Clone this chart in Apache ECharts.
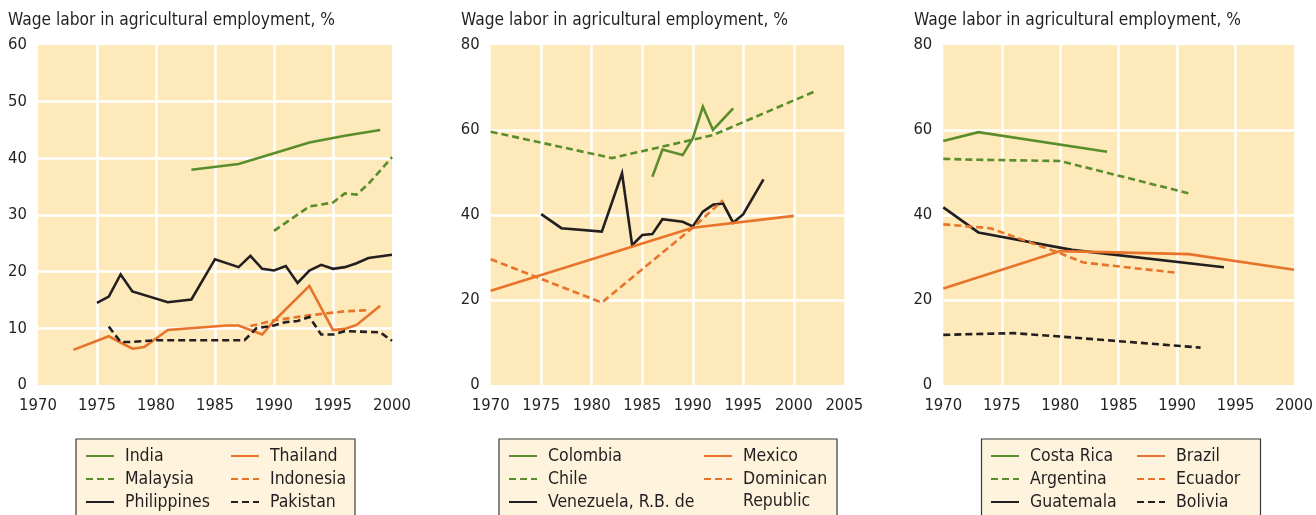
<!DOCTYPE html>
<html>
<head>
<meta charset="utf-8">
<script src="https://cdn.jsdelivr.net/npm/echarts@6/dist/echarts.min.js"></script>
<style>
  html, body { margin: 0; padding: 0; background: #ffffff; }
  #chart { width: 1316px; height: 515px; }
</style>
</head>
<body>
<div id="chart"></div>
<script>
// Wage labor as a share of agricultural employment, %, by country and year
const titleText = 'Wage labor in agricultural employment, %';

// Asia
const india       = [[1983, 38.0], [1987, 39.0], [1990, 40.9], [1993, 42.8], [1996, 44.0], [1999, 45.0]];
const malaysia    = [[1990, 27.2], [1993, 31.5], [1995, 32.2], [1996, 33.8], [1997, 33.6], [1998, 35.5], [2000, 40.2]];
const philippines = [[1975, 14.5], [1976, 15.6], [1977, 19.5], [1978, 16.5], [1981, 14.6], [1983, 15.1], [1985, 22.2],
                     [1987, 20.8], [1988, 22.8], [1989, 20.5], [1990, 20.2], [1991, 21.0], [1992, 18.0], [1993, 20.2],
                     [1994, 21.2], [1995, 20.5], [1996, 20.8], [1997, 21.5], [1998, 22.4], [2000, 23.0]];
const thailand    = [[1973, 6.2], [1976, 8.6], [1977, 7.5], [1978, 6.4], [1979, 6.7], [1981, 9.7], [1986, 10.5],
                     [1987, 10.5], [1989, 8.9], [1990, 11.3], [1993, 17.5], [1995, 9.7], [1996, 9.9], [1997, 10.6], [1999, 14.0]];
const indonesia   = [[1988, 10.4], [1990, 11.4], [1993, 12.3], [1996, 13.0], [1998, 13.2]];
const pakistan    = [[1976, 10.3], [1977, 7.6], [1978, 7.6], [1980, 7.9], [1987.5, 7.9], [1988.5, 10.0], [1990, 10.5],
                     [1991, 11.1], [1992, 11.3], [1993, 12.0], [1994, 8.9], [1995, 8.9], [1996, 9.5], [1999, 9.3], [2000, 7.8]];

// Latin America (first group)
const colombia  = [[1986, 49.0], [1987, 55.4], [1989, 54.1], [1990, 58.0], [1991, 65.5], [1992, 60.0], [1994, 65.1]];
const chile     = [[1970, 59.6], [1982, 53.4], [1992, 58.8], [2002, 69.0]];
const venezuela = [[1975, 40.2], [1977, 36.9], [1981, 36.1], [1983, 49.8], [1984, 32.9], [1985, 35.3], [1986, 35.5],
                   [1987, 39.0], [1989, 38.4], [1990, 37.3], [1991, 40.8], [1992, 42.4], [1993, 42.7], [1994, 38.2],
                   [1995, 40.2], [1997, 48.4]];
const mexico    = [[1970, 22.2], [1990, 37.0], [2000, 39.8]];
const dominican = [[1970, 29.6], [1981, 19.4], [1990, 37.0], [1993, 43.5]];

// Latin America (second group)
const costaRica = [[1970, 57.4], [1973, 59.5], [1984, 54.9]];
const argentina = [[1970, 53.2], [1973, 53.0], [1980, 52.7], [1991, 45.1]];
const guatemala = [[1970, 41.8], [1973, 35.9], [1981, 31.8], [1994, 27.7]];
const brazil    = [[1970, 22.7], [1980, 31.5], [1991, 30.8], [2000, 27.1]];
const ecuador   = [[1970, 37.8], [1974, 36.9], [1980, 31.0], [1982, 28.8], [1990, 26.4]];
const bolivia   = [[1970, 11.8], [1976, 12.2], [1980, 11.4], [1992, 8.8]];

// Axis ranges
const xRanges = [[1970, 2000], [1970, 2005], [1970, 2000]];
const yRanges = [[0, 60, 10], [0, 80, 20], [0, 80, 20]];

const FONT = "'DejaVu Sans Condensed', 'Liberation Sans Narrow', Roboto, sans-serif";
const FS_TITLE = 17.2;
const FS_TICK = 16.5;
const FS_LEGEND = 17.5;
const INK = '#231f20';
const GREEN = '#5a8d2b';
const ORANGE = '#e8732a';
const BLACK = '#231f20';
const PLOT_BG = '#fde9b9';
const BOX_BG = '#fef3dc';
const DASH = [7, 4];

const grids = [
  { left: 38, top: 45, width: 354, height: 340 },
  { left: 490.7, top: 45, width: 353.6, height: 340 },
  { left: 943.3, top: 45, width: 354, height: 340 }
];

function seriesDef(name, data, color, dashed, idx) {
  return {
    name: name,
    type: 'line',
    xAxisIndex: idx,
    yAxisIndex: idx,
    data: data,
    symbol: 'none',
    silent: true,
    color: color,
    lineStyle: { color: color, width: 2.6, type: dashed ? DASH : 'solid', join: 'miter' },
    emphasis: { disabled: true }
  };
}

const panels = [
  [['India', india, GREEN, false], ['Malaysia', malaysia, GREEN, true], ['Philippines', philippines, BLACK, false],
   ['Thailand', thailand, ORANGE, false], ['Indonesia', indonesia, ORANGE, true], ['Pakistan', pakistan, BLACK, true]],
  [['Colombia', colombia, GREEN, false], ['Chile', chile, GREEN, true], ['Venezuela, R.B. de', venezuela, BLACK, false],
   ['Mexico', mexico, ORANGE, false], ['Dominican Republic', dominican, ORANGE, true]],
  [['Costa Rica', costaRica, GREEN, false], ['Argentina', argentina, GREEN, true], ['Guatemala', guatemala, BLACK, false],
   ['Brazil', brazil, ORANGE, false], ['Ecuador', ecuador, ORANGE, true], ['Bolivia', bolivia, BLACK, true]]
];

const series = [];
panels.forEach((list, i) => list.forEach(s => series.push(seriesDef(s[0], s[1], s[2], s[3], i))));

// Legend layout: boxes and column positions
const legendBoxes = [[76, 279], [499, 338], [981.5, 279]];
const legendCols = [[85, 230], [508, 703], [990, 1136]];
const LEG_TOP = 447;

const legends = [];
panels.forEach((list, i) => {
  const names = list.map(s => s[0]);
  [names.slice(0, 3), names.slice(3)].forEach((col, c) => {
    legends.push({
      orient: 'vertical',
      left: legendCols[i][c],
      top: LEG_TOP,
      height: 120,
      padding: 0,
      itemWidth: 28,
      itemHeight: 14,
      itemGap: 5,
      selectedMode: false,
      data: col,
      z: 10,
      itemStyle: { color: 'rgba(0,0,0,0)', borderWidth: 0, opacity: 0 },
      formatter: n => (n === 'Dominican Republic' ? 'Dominican' : n),
      textStyle: { fontFamily: FONT, fontSize: FS_LEGEND, color: INK, lineHeight: 14, padding: [0, 0, 0, 6] }
    });
  });
});

const graphics = legendBoxes.map(b => ({
  type: 'rect',
  z: 1,
  shape: { x: b[0], y: 439, width: b[1], height: 90 },
  style: { fill: BOX_BG, stroke: '#3c3a38', lineWidth: 1.2 }
}));
graphics.push({
  type: 'text',
  z: 11,
  left: 743,
  top: 492,
  style: { text: 'Republic', font: FS_LEGEND + 'px ' + FONT, fill: INK }
});

const option = {
  animation: false,
  backgroundColor: '#ffffff',
  textStyle: { fontFamily: FONT },
  title: [8, 461, 914].map(x => ({
    text: titleText,
    left: x,
    top: 10,
    padding: 0,
    textStyle: { fontFamily: FONT, fontSize: FS_TITLE, fontWeight: 'normal', color: INK, lineHeight: 21 }
  })),
  grid: grids.map(g => Object.assign({ show: true, backgroundColor: PLOT_BG, borderWidth: 0, containLabel: false }, g)),
  xAxis: xRanges.map((r, i) => ({
    type: 'value',
    gridIndex: i,
    min: r[0],
    max: r[1],
    interval: 5,
    axisLine: { show: false },
    axisTick: { show: false },
    axisLabel: { fontFamily: FONT, fontSize: FS_TICK, color: INK, margin: 12, formatter: v => String(v) },
    splitLine: { show: true, showMinLine: false, showMaxLine: false, lineStyle: { color: '#ffffff', width: 2.5 } }
  })),
  yAxis: yRanges.map((r, i) => ({
    type: 'value',
    gridIndex: i,
    min: r[0],
    max: r[1],
    interval: r[2],
    axisLine: { show: false },
    axisTick: { show: false },
    axisLabel: { fontFamily: FONT, fontSize: FS_TICK, color: INK, margin: 11 },
    splitLine: { show: true, showMinLine: false, showMaxLine: false, lineStyle: { color: '#ffffff', width: 2.5 } }
  })),
  legend: legends,
  graphic: graphics,
  series: series
};

const chart = echarts.init(document.getElementById('chart'), null, { renderer: 'canvas' });
chart.setOption(option);
</script>
</body>
</html>
